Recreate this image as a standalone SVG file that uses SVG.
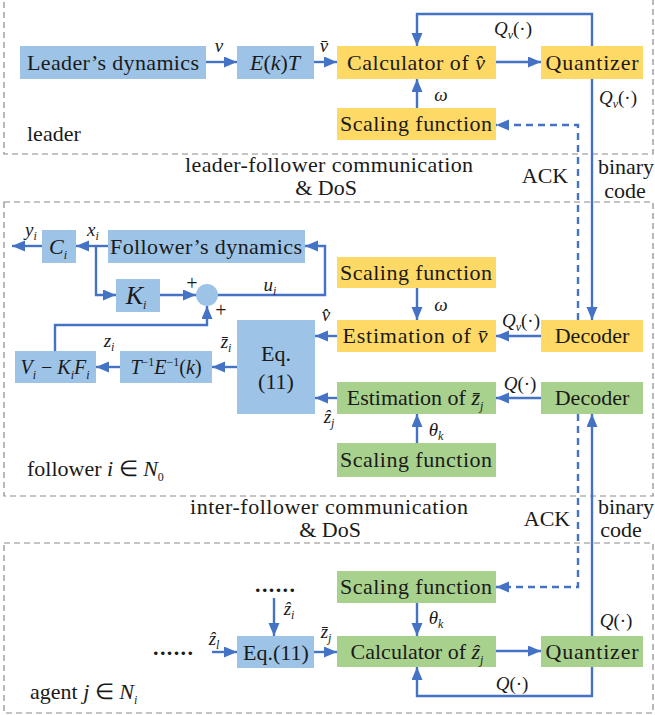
<svg xmlns="http://www.w3.org/2000/svg" width="655" height="715" viewBox="0 0 655 715">
  <style>
    .bb { fill: #9DC3E6; }
    .by { fill: #FFD966; }
    .bg { fill: #A9D18E; }
    text { font-family: 'Liberation Serif', serif !important; }
    tspan { font-family: 'Liberation Serif', serif !important; }
    .t { font-family: 'Liberation Serif', serif !important; font-size: 22px; text-anchor: middle; fill: #1a1a1a; }
    .tl { font-family: 'Liberation Serif', serif !important; font-size: 22px; fill: #1a1a1a; }
    .m { font-family: 'Liberation Serif', serif !important; font-size: 19px; font-style: italic; text-anchor: middle; fill: #1a1a1a; }
    .i { font-style: italic; }
    .n { font-style: normal; }
    .s { font-size: 12px; }
    .w { stroke: #4472C4; stroke-width: 2.4; fill: none; marker-end: url(#ah); }
    .dash { stroke-dasharray: 7 5; }
    .frame { fill: none; stroke: #8a8a8a; stroke-width: 1.2; stroke-dasharray: 6 4; }
  </style>
  <defs>
    <marker id="ah" markerUnits="userSpaceOnUse" markerWidth="14" markerHeight="12" refX="13" refY="5.5" orient="auto">
      <path d="M0,0 L13,5.5 L0,11 z" fill="#4472C4"/>
    </marker>
  </defs>

  <!-- section frames -->
  <g id="frames">
    <rect class="frame" x="4" y="-2" width="649" height="156"/>
    <rect class="frame" x="4" y="202" width="649" height="294"/>
    <rect class="frame" x="4" y="543" width="649" height="170"/>
  </g>

  <!-- channel labels -->
  <g id="channel-labels">
    <text class="t" style="font-family:'Liberation Serif',serif !important" x="329" y="172" textLength="288">leader-follower communication</text>
    <text class="t" style="font-family:'Liberation Serif',serif !important" x="326" y="195">&amp; DoS</text>
    <text class="t" style="font-family:'Liberation Serif',serif !important" x="545" y="183">ACK</text>
    <text class="t" style="font-family:'Liberation Serif',serif !important" x="626" y="174">binary</text>
    <text class="t" style="font-family:'Liberation Serif',serif !important" x="625" y="198">code</text>
    <text class="t" style="font-family:'Liberation Serif',serif !important" x="329" y="514" textLength="278">inter-follower communication</text>
    <text class="t" style="font-family:'Liberation Serif',serif !important" x="330" y="537">&amp; DoS</text>
    <text class="t" style="font-family:'Liberation Serif',serif !important" x="547" y="526">ACK</text>
    <text class="t" style="font-family:'Liberation Serif',serif !important" x="626" y="514">binary</text>
    <text class="t" style="font-family:'Liberation Serif',serif !important" x="621" y="537">code</text>
    <text class="tl" style="font-family:'Liberation Serif',serif !important" x="27" y="141">leader</text>
    <text class="tl" style="font-family:'Liberation Serif',serif !important" x="27" y="476">follower <tspan class="i">i</tspan> ∈ <tspan class="i">N</tspan><tspan class="s" dy="5">0</tspan></text>
    <text class="tl" style="font-family:'Liberation Serif',serif !important" x="30" y="699">agent <tspan class="i">j</tspan> ∈ <tspan class="i">N</tspan><tspan class="s i" dy="5">i</tspan></text>
  </g>

  <!-- leader nodes -->
  <g id="leader-dynamics"><rect class="bb" x="20" y="46" width="186" height="33"/><text class="t" style="font-family:'Liberation Serif',serif !important" x="113" y="70" textLength="172">Leader’s dynamics</text></g>
  <g id="ekt"><rect class="bb" x="237" y="46" width="77" height="33"/><text class="t" style="font-family:'Liberation Serif',serif !important" x="275" y="70"><tspan class="i">E</tspan>(<tspan class="i">k</tspan>)<tspan class="i">T</tspan></text></g>
  <g id="calc-v"><rect class="by" x="337" y="46" width="159" height="33"/><text class="t" style="font-family:'Liberation Serif',serif !important" x="416" y="70" textLength="138">Calculator of <tspan class="i">v̂</tspan></text></g>
  <g id="quant-v"><rect class="by" x="541" y="46" width="102" height="33"/><text class="t" style="font-family:'Liberation Serif',serif !important" x="592" y="70" textLength="93">Quantizer</text></g>
  <g id="scale-v"><rect class="by" x="337" y="108" width="159" height="32"/><text class="t" style="font-family:'Liberation Serif',serif !important" x="416" y="131" textLength="152">Scaling function</text></g>

  <!-- follower nodes -->
  <g id="follower-dynamics"><rect class="bb" x="108" y="230" width="197" height="33"/><text class="t" style="font-family:'Liberation Serif',serif !important" x="206" y="254" textLength="192">Follower’s dynamics</text></g>
  <g id="ci"><rect class="bb" x="42" y="230" width="34" height="33"/><text class="t" style="font-family:'Liberation Serif',serif !important" x="58" y="254"><tspan class="i">C</tspan><tspan class="s i" dy="5">i</tspan></text></g>
  <g id="ki"><rect class="bb" x="116" y="279" width="44" height="33"/><text class="t" style="font-family:'Liberation Serif',serif !important; font-size:26px" x="136" y="304"><tspan class="i">K</tspan><tspan class="s i" dy="5">i</tspan></text></g>
  <g id="sum"><circle class="bb" cx="207" cy="295" r="11"/></g>
  <g id="vi-kifi"><rect class="bb" x="15" y="351" width="81" height="32"/><text class="t" style="font-family:'Liberation Serif',serif !important; font-size:20px" x="55" y="374"><tspan class="i">V</tspan><tspan class="s i" dy="5">i</tspan><tspan dy="-5"> − </tspan><tspan class="i">K</tspan><tspan class="s i" dy="5">i</tspan><tspan class="i" dy="-5">F</tspan><tspan class="s i" dy="5">i</tspan></text></g>
  <g id="tinv"><rect class="bb" x="120" y="351" width="92" height="32"/><text class="t" style="font-family:'Liberation Serif',serif !important; font-size:20px" x="166" y="374"><tspan class="i">T</tspan><tspan class="s" dy="-8">−1</tspan><tspan class="i" dy="8">E</tspan><tspan class="s" dy="-8">−1</tspan><tspan dy="8">(</tspan><tspan class="i">k</tspan>)</text></g>
  <g id="eq11"><rect class="bb" x="237" y="320" width="78" height="94"/><text class="t" style="font-family:'Liberation Serif',serif !important" x="276" y="361">Eq.</text><text class="t" style="font-family:'Liberation Serif',serif !important" x="276" y="389">(11)</text></g>
  <g id="scale-f"><rect class="by" x="337" y="257" width="159" height="31"/><text class="t" style="font-family:'Liberation Serif',serif !important" x="416" y="280" textLength="152">Scaling function</text></g>
  <g id="est-v"><rect class="by" x="337" y="320" width="159" height="32"/><text class="t" style="font-family:'Liberation Serif',serif !important" x="415" y="343" textLength="145">Estimation of <tspan class="i">v̄</tspan></text></g>
  <g id="dec-v"><rect class="by" x="541" y="320" width="102" height="32"/><text class="t" style="font-family:'Liberation Serif',serif !important" x="592" y="343">Decoder</text></g>
  <g id="est-z"><rect class="bg" x="337" y="382" width="159" height="32"/><text class="t" style="font-family:'Liberation Serif',serif !important" x="415" y="405">Estimation of <tspan class="i">z̄</tspan><tspan class="s i" dy="5">j</tspan></text></g>
  <g id="dec-z"><rect class="bg" x="541" y="382" width="102" height="32"/><text class="t" style="font-family:'Liberation Serif',serif !important" x="592" y="405">Decoder</text></g>
  <g id="scale-z"><rect class="bg" x="337" y="443" width="159" height="34"/><text class="t" style="font-family:'Liberation Serif',serif !important" x="416" y="467" textLength="152">Scaling function</text></g>

  <!-- agent nodes -->
  <g id="scale-a"><rect class="bg" x="337" y="571" width="159" height="32"/><text class="t" style="font-family:'Liberation Serif',serif !important" x="416" y="594" textLength="152">Scaling function</text></g>
  <g id="calc-z"><rect class="bg" x="337" y="636" width="159" height="31"/><text class="t" style="font-family:'Liberation Serif',serif !important" x="417" y="659">Calculator of <tspan class="i">ẑ</tspan><tspan class="s i" dy="5">j</tspan></text></g>
  <g id="quant-z"><rect class="bg" x="541" y="636" width="102" height="31"/><text class="t" style="font-family:'Liberation Serif',serif !important" x="592" y="659" textLength="93">Quantizer</text></g>
  <g id="eq11-a"><rect class="bb" x="237" y="636" width="77" height="32"/><text class="t" style="font-family:'Liberation Serif',serif !important" x="276" y="660">Eq.(11)</text></g>
  <g id="more"><text class="t" style="font-family:'Liberation Serif',serif !important; font-weight:bold" x="275" y="592" textLength="40">......</text><text class="t" style="font-family:'Liberation Serif',serif !important; font-weight:bold" x="173" y="655" textLength="40">......</text></g>

  <!-- connectors -->
  <g id="connectors">
    <path class="w" d="M206,62 H237"/>
    <path class="w" d="M314,62 H337"/>
    <path class="w" d="M496,62 H541"/>
    <path class="w" d="M592,46 V14 H417 V46"/>
    <path class="w" d="M417,108 V79"/>
    <path class="w" d="M592,79 V320"/>
    <path class="w dash" d="M578,320 V125 H496"/>
    <path class="w" d="M108,246 H76"/>
    <path class="w" d="M42,246 H12"/>
    <path class="w" d="M96,246 V295 H116"/>
    <path class="w" d="M160,295 H196"/>
    <path class="w" d="M218,295 H325 V246 H305"/>
    <path class="w" d="M55,351 V325 H207 V306"/>
    <path class="w" d="M237,367 H212"/>
    <path class="w" d="M120,367 H96"/>
    <path class="w" d="M337,336 H315"/>
    <path class="w" d="M541,336 H496"/>
    <path class="w" d="M417,288 V320"/>
    <path class="w" d="M337,398 H315"/>
    <path class="w" d="M541,398 H496"/>
    <path class="w" d="M417,443 V414"/>
    <path class="w" d="M592,636 V414"/>
    <path class="w dash" d="M578,414 V587 H496"/>
    <path class="w" d="M417,603 V636"/>
    <path class="w" d="M496,651 H541"/>
    <path class="w" d="M592,667 V696 H417 V667"/>
    <path class="w" d="M314,652 H337"/>
    <path class="w" d="M274,598 V636"/>
    <path class="w" d="M212,652 H237"/>
  </g>

  <!-- connector labels -->
  <g id="connector-labels">
    <text class="m" style="font-family:'Liberation Serif',serif !important" x="219" y="52">v</text>
    <text class="m" style="font-family:'Liberation Serif',serif !important" x="324" y="52">v̄</text>
    <text class="m" style="font-family:'Liberation Serif',serif !important" x="513" y="35">Q<tspan class="s" dy="4">v</tspan><tspan class="n" dy="-4">(·)</tspan></text>
    <text class="m" style="font-family:'Liberation Serif',serif !important" x="441" y="101">ω</text>
    <text class="m" style="font-family:'Liberation Serif',serif !important" x="618" y="104">Q<tspan class="s" dy="4">v</tspan><tspan class="n" dy="-4">(·)</tspan></text>
    <text class="m" style="font-family:'Liberation Serif',serif !important" x="31" y="236">y<tspan class="s" dy="4">i</tspan></text>
    <text class="m" style="font-family:'Liberation Serif',serif !important" x="93" y="236">x<tspan class="s" dy="4">i</tspan></text>
    <text class="t" style="font-family:'Liberation Serif',serif !important; font-size:20px" x="192" y="290">+</text>
    <text class="t" style="font-family:'Liberation Serif',serif !important; font-size:20px" x="221" y="317">+</text>
    <text class="m" style="font-family:'Liberation Serif',serif !important" x="270" y="291">u<tspan class="s" dy="4">i</tspan></text>
    <text class="m" style="font-family:'Liberation Serif',serif !important" x="109" y="347">z<tspan class="s" dy="4">i</tspan></text>
    <text class="m" style="font-family:'Liberation Serif',serif !important" x="226" y="348">z̄<tspan class="s" dy="4">i</tspan></text>
    <text class="m" style="font-family:'Liberation Serif',serif !important" x="326" y="321">v̂</text>
    <text class="m" style="font-family:'Liberation Serif',serif !important" x="329" y="423">ẑ<tspan class="s" dy="4">j</tspan></text>
    <text class="m" style="font-family:'Liberation Serif',serif !important" x="441" y="311">ω</text>
    <text class="m" style="font-family:'Liberation Serif',serif !important" x="521" y="327">Q<tspan class="s" dy="4">v</tspan><tspan class="n" dy="-4">(·)</tspan></text>
    <text class="m" style="font-family:'Liberation Serif',serif !important" x="520" y="390">Q<tspan class="n">(·)</tspan></text>
    <text class="m" style="font-family:'Liberation Serif',serif !important" x="436" y="436">θ<tspan class="s" dy="4">k</tspan></text>
    <text class="m" style="font-family:'Liberation Serif',serif !important" x="289" y="615">ẑ<tspan class="s" dy="4">i</tspan></text>
    <text class="m" style="font-family:'Liberation Serif',serif !important" x="214" y="645">ẑ<tspan class="s" dy="4">l</tspan></text>
    <text class="m" style="font-family:'Liberation Serif',serif !important" x="326" y="638">z̄<tspan class="s" dy="4">j</tspan></text>
    <text class="m" style="font-family:'Liberation Serif',serif !important" x="436" y="624">θ<tspan class="s" dy="4">k</tspan></text>
    <text class="m" style="font-family:'Liberation Serif',serif !important" x="616" y="627">Q<tspan class="n">(·)</tspan></text>
    <text class="m" style="font-family:'Liberation Serif',serif !important" x="512" y="690">Q<tspan class="n">(·)</tspan></text>
  </g>
</svg>
